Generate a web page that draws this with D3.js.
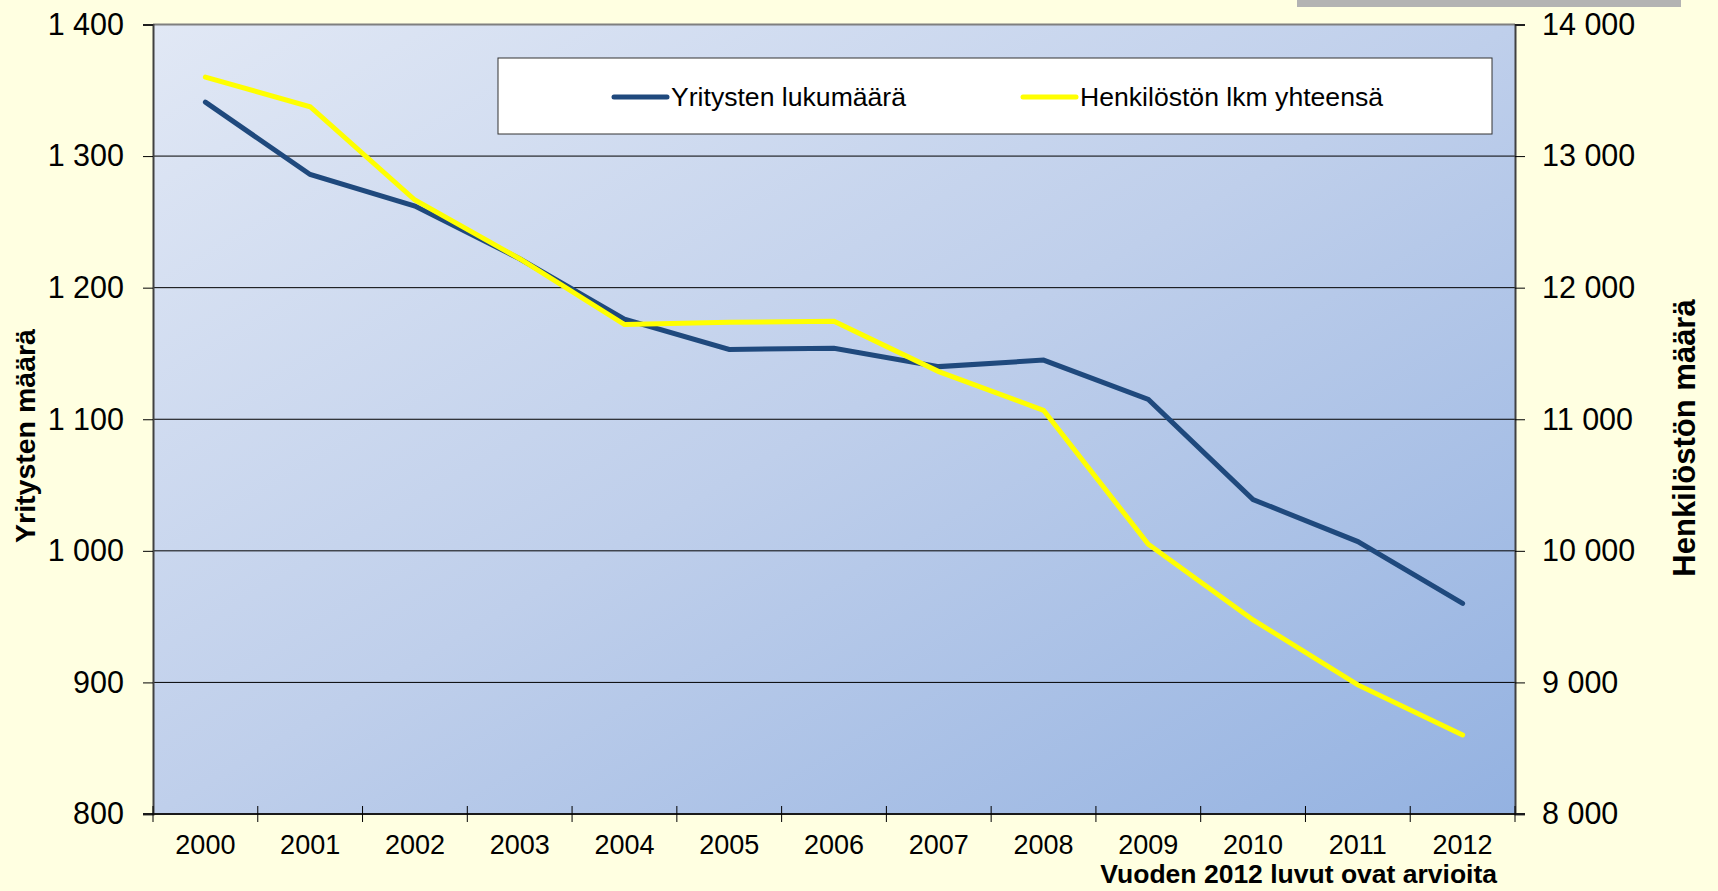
<!DOCTYPE html>
<html>
<head>
<meta charset="utf-8">
<script src="https://cdn.jsdelivr.net/npm/d3@7"></script>
<style>
  html, body { margin: 0; padding: 0; background: #ffffe1; }
  svg { display: block; font-family: 'Liberation Sans', Arial, sans-serif; }
</style>
</head>
<body>
<div id="svg-container"></div>
<script>
const years = ['2000', '2001', '2002', '2003', '2004', '2005', '2006', '2007', '2008', '2009', '2010', '2011', '2012'];
const yritykset = [1341, 1286, 1262, 1222, 1176, 1153, 1154, 1140, 1145, 1115, 1039, 1007, 960];
const henkilosto = [13600, 13375, 12666, 12220, 11720, 11737, 11745, 11362, 11068, 10050, 9475, 8981, 8601];
const leftTicks = [800, 900, 1000, 1100, 1200, 1300, 1400];
const rightTicks = [8000, 9000, 10000, 11000, 12000, 13000, 14000];
const seriesNames = ['Yritysten lukumäärä', 'Henkilöstön lkm yhteensä'];

const width = 1718;
const height = 891;
const margin = {top: 24.5, right: 203, bottom: 77, left: 153};
const fontFamily = 'Liberation Sans, Arial, sans-serif';

const fmt = v => d3.format(',')(v).replace(/,/g, ' ');

const svg = d3.select('#svg-container')
  .append('svg')
  .attr('width', width)
  .attr('height', height);

svg.append('rect')
  .attr('width', width)
  .attr('height', height)
  .attr('fill', '#ffffe1');

// grey strip at the top right (remains of a slide element)
svg.append('rect')
  .attr('x', 1297).attr('y', 0)
  .attr('width', 384).attr('height', 7)
  .attr('fill', '#b3b3b3');

const x = d3.scaleBand()
  .domain(years)
  .range([margin.left, width - margin.right]);

const yLeft = d3.scaleLinear()
  .domain([800, 1400])
  .range([height - margin.bottom, margin.top]);

const yRight = d3.scaleLinear()
  .domain([8000, 14000])
  .range([height - margin.bottom, margin.top]);

// plot area gradient
const defs = svg.append('defs');
const grad = defs.append('linearGradient')
  .attr('id', 'plot-bg')
  .attr('x1', '0%').attr('y1', '0%')
  .attr('x2', '100%').attr('y2', '100%');
grad.append('stop').attr('offset', '0%').attr('stop-color', '#e1e8f5');
grad.append('stop').attr('offset', '50%').attr('stop-color', '#bfcfeb');
grad.append('stop').attr('offset', '100%').attr('stop-color', '#94b2e1');

svg.append('rect')
  .attr('x', margin.left)
  .attr('y', margin.top)
  .attr('width', width - margin.left - margin.right)
  .attr('height', height - margin.top - margin.bottom)
  .attr('fill', 'url(#plot-bg)');

// gridlines
svg.append('g')
  .selectAll('line')
  .data(leftTicks.slice(1))
  .enter()
  .append('line')
  .attr('x1', margin.left)
  .attr('x2', width - margin.right)
  .attr('y1', d => yLeft(d))
  .attr('y2', d => yLeft(d))
  .attr('stroke', d => d === 1400 ? '#7f7f7f' : '#000')
  .attr('stroke-width', d => d === 1400 ? 2 : 1);

// left axis
const gLeft = svg.append('g')
  .attr('transform', 'translate(' + margin.left + ',0)')
  .call(d3.axisLeft(yLeft).tickValues(leftTicks).tickFormat(fmt).tickSize(10).tickPadding(19));
gLeft.select('path.domain').attr('stroke', '#404040').attr('stroke-width', 2);
gLeft.selectAll('.tick line').attr('stroke', '#000');
gLeft.selectAll('text').attr('font-size', 30.5).attr('fill', '#000').attr('font-family', fontFamily);

// right axis
const gRight = svg.append('g')
  .attr('transform', 'translate(' + (width - margin.right) + ',0)')
  .call(d3.axisRight(yRight).tickValues(rightTicks).tickFormat(fmt).tickSize(10).tickPadding(17));
gRight.select('path.domain').attr('stroke', '#404040').attr('stroke-width', 2);
gRight.selectAll('.tick line').attr('stroke', '#000');
gRight.selectAll('text').attr('font-size', 30.5).attr('fill', '#000').attr('font-family', fontFamily);

// bottom axis: ticks between categories, crossing the axis line
const xAxisY = height - margin.bottom;
svg.append('line')
  .attr('x1', margin.left - 10)
  .attr('x2', width - margin.right + 10)
  .attr('y1', xAxisY)
  .attr('y2', xAxisY)
  .attr('stroke', '#1a1a1a')
  .attr('stroke-width', 2);

const boundaries = years.map(d => x(d)).concat([x(years[years.length - 1]) + x.bandwidth()]);
svg.append('g')
  .selectAll('line')
  .data(boundaries)
  .enter()
  .append('line')
  .attr('x1', d => d).attr('x2', d => d)
  .attr('y1', xAxisY - 8).attr('y2', xAxisY + 8)
  .attr('stroke', '#000');

svg.append('g')
  .selectAll('text')
  .data(years)
  .enter()
  .append('text')
  .attr('x', d => x(d) + x.bandwidth() / 2)
  .attr('y', 854)
  .attr('text-anchor', 'middle')
  .attr('font-size', 27)
  .text(d => d);

// series lines
const lineLeft = d3.line()
  .x((d, i) => x(years[i]) + x.bandwidth() / 2)
  .y(d => yLeft(d));

const lineRight = d3.line()
  .x((d, i) => x(years[i]) + x.bandwidth() / 2)
  .y(d => yRight(d));

svg.append('path')
  .datum(yritykset)
  .attr('d', lineLeft)
  .attr('fill', 'none')
  .attr('stroke', '#1f497d')
  .attr('stroke-width', 5)
  .attr('stroke-linecap', 'round');

svg.append('path')
  .datum(henkilosto)
  .attr('d', lineRight)
  .attr('fill', 'none')
  .attr('stroke', '#ffff00')
  .attr('stroke-width', 5)
  .attr('stroke-linecap', 'round');

// legend
const legend = svg.append('g');
legend.append('rect')
  .attr('x', 498).attr('y', 58)
  .attr('width', 994).attr('height', 76)
  .attr('fill', '#fff')
  .attr('stroke', '#333')
  .attr('stroke-width', 1);

const legendItems = [
  {name: seriesNames[0], color: '#1f497d', x: 614},
  {name: seriesNames[1], color: '#ffff00', x: 1023}
];
legendItems.forEach(item => {
  legend.append('line')
    .attr('x1', item.x).attr('x2', item.x + 53)
    .attr('y1', 97).attr('y2', 97)
    .attr('stroke', item.color)
    .attr('stroke-width', 5)
    .attr('stroke-linecap', 'round');
  legend.append('text')
    .attr('x', item.x + 57)
    .attr('y', 106)
    .attr('font-size', 26.6)
    .text(item.name);
});

// axis titles
svg.append('text')
  .attr('transform', 'translate(35,436) rotate(-90)')
  .attr('text-anchor', 'middle')
  .attr('font-size', 28.5)
  .attr('font-weight', 'bold')
  .text('Yritysten määrä');

svg.append('text')
  .attr('transform', 'translate(1695,438) rotate(-90)')
  .attr('text-anchor', 'middle')
  .attr('font-size', 31)
  .attr('font-weight', 'bold')
  .text('Henkilöstön määrä');

svg.append('text')
  .attr('x', 1497)
  .attr('y', 883)
  .attr('text-anchor', 'end')
  .attr('font-size', 26.5)
  .attr('font-weight', 'bold')
  .text('Vuoden 2012 luvut ovat arvioita');
</script>
</body>
</html>
